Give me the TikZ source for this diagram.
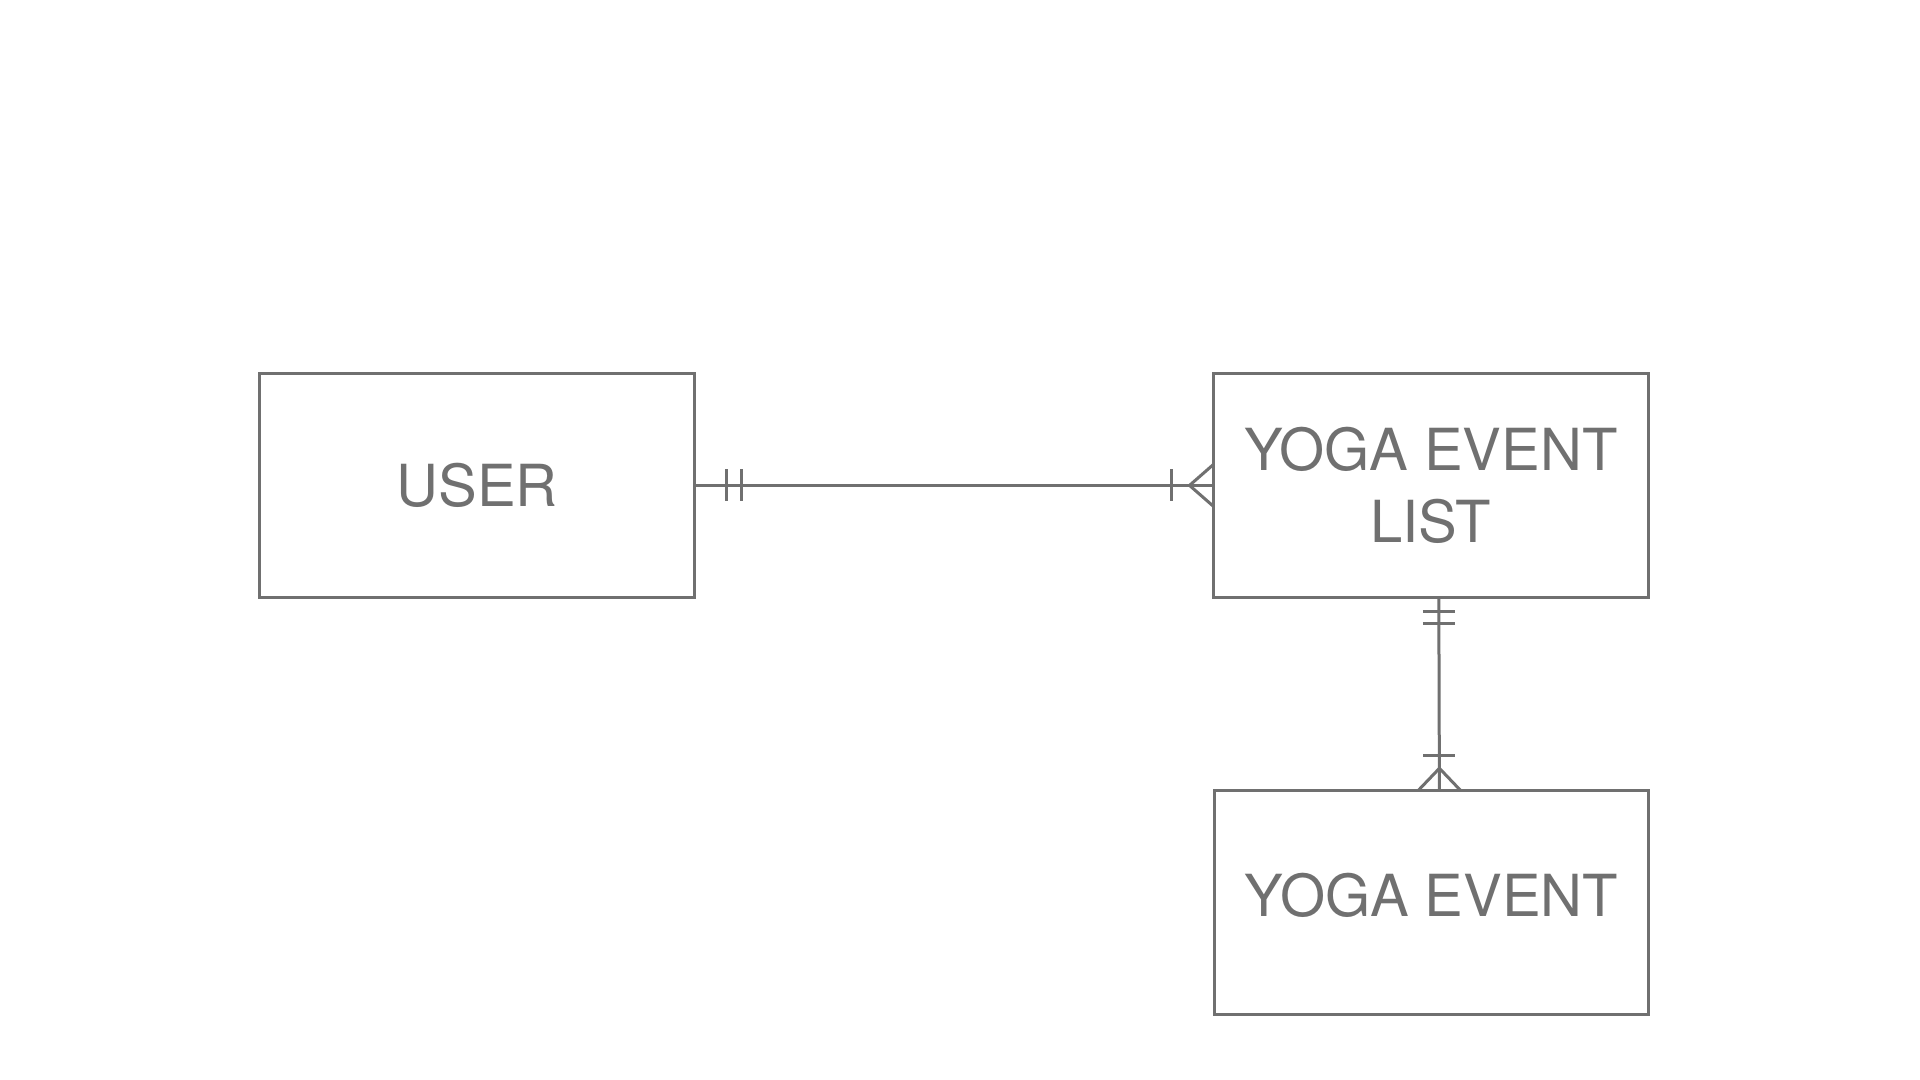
\documentclass[tikz,border=0pt]{standalone}
\usepackage{fontspec}
\setmainfont{TeX Gyre Heros}
\usepackage{tikz}
\usetikzlibrary{calc}
\usetikzlibrary{positioning}
\definecolor{ergray}{HTML}{707070}

\begin{document}
\begin{tikzpicture}[entity/.style = {rectangle, draw=ergray, line width=1.5pt, outer sep=0pt, minimum width=217.3pt, minimum height=112pt, text=ergray, align=center, font=\fontsize{29}{36}\selectfont},
relation/.style = {draw=ergray, line width=1.5pt}
]
%background, keeps the margins
\useasboundingbox[fill=white] (0,0) rectangle (960pt,-540pt);

\node (entityuser)[entity] at (238.5pt,-242.7pt) {USER};
\node (entitylist)[entity, right=259.6pt of entityuser] {YOGA EVENT\\LIST};
\node (entityevent)[entity, below=96.75pt of entitylist, xshift=0.3pt, text depth=7.8pt] {YOGA EVENT};

\coordinate (listfoot) at ([xshift=4pt]entitylist.south);
\coordinate (eventhead) at ([xshift=4pt]entityevent.north);

% user -- list, one and only one to one or many
\draw[relation] (entityuser.east) -- (entitylist.west);
\draw[relation] ($(entityuser.east)+(16pt,8pt)$) -- ++(0,-16pt);
\draw[relation] ($(entityuser.east)+(23.5pt,8pt)$) -- ++(0,-16pt);
\draw[relation] ($(entitylist.west)+(-21pt,8pt)$) -- ++(0,-16pt);
\draw[relation] ($(entitylist.west)+(0,10.5pt)$) -- ($(entitylist.west)+(-12pt,0)$) -- ($(entitylist.west)+(0,-10.5pt)$);

% list -- event
\draw[relation] (listfoot) -- (eventhead);
\draw[relation] ($(listfoot)+(-8pt,-7pt)$) -- ++(16pt,0);
\draw[relation] ($(listfoot)+(-8pt,-13pt)$) -- ++(16pt,0);
\draw[relation] ($(eventhead)+(-8pt,17.5pt)$) -- ++(16pt,0);
\draw[relation] ($(eventhead)+(-10.8pt,0)$) -- ($(eventhead)+(0,11.3pt)$) -- ($(eventhead)+(10.8pt,0)$);

\end{tikzpicture}
\end{document}
